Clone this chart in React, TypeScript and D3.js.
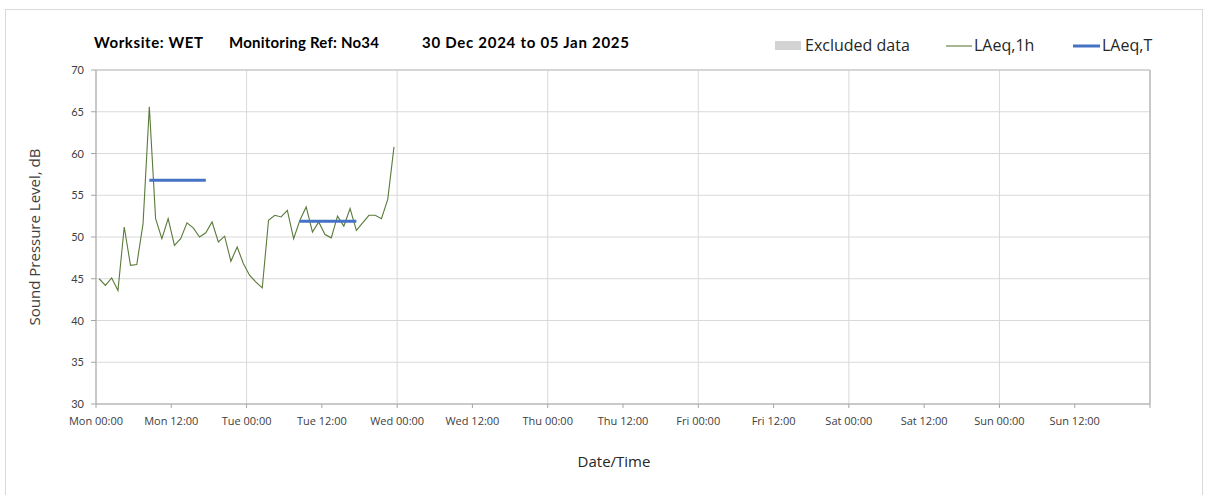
import * as d3 from 'd3';

// hourly LAeq,1h readings, plotted at mid-hour, from Mon 30 Dec 2024 00:00
const startDate = new Date(2024, 11, 30, 0, 0);
const endDate = new Date(2025, 0, 6, 0, 0);
const laeq1h = [
  45.0, 44.2, 45.1, 43.6, 51.2, 46.6, 46.7, 51.6, 65.6, 52.2, 49.8, 52.2,
  49.0, 49.8, 51.7, 51.1, 50.0, 50.5, 51.8, 49.4, 50.1, 47.1, 48.8, 46.8,
  45.4, 44.6, 43.9, 52.0, 52.6, 52.4, 53.2, 49.8, 52.0, 53.6, 50.6, 51.8,
  50.3, 49.9, 52.5, 51.3, 53.4, 50.8, 51.7, 52.6, 52.6, 52.2, 54.5, 60.8,
];
// LAeq,T daytime periods: start/end hour offsets and level
const periodStart = [8.5, 32.5];
const periodEnd = [17.5, 41.5];
const periodLevel = [56.8, 51.9];
const yTicks = [30, 35, 40, 45, 50, 55, 60, 65, 70];
const title = ['Worksite: WET', 'Monitoring Ref: No34', '30 Dec 2024 to 05 Jan 2025'];

const W = 1208;
const H = 495;
const margin = { left: 96, right: 58, top: 70, bottom: 91 };
const FONT = 'Lato, "Open Sans", sans-serif';
const UI_FONT = '"Open Sans", sans-serif';
const hourMs = 3600 * 1000;

export default function App() {
  const x = d3.scaleTime().domain([startDate, endDate]).range([margin.left, W - margin.right]);
  const y = d3.scaleLinear().domain([30, 70]).range([H - margin.bottom, margin.top]);
  const at = (h: number) => new Date(startDate.getTime() + h * hourMs);

  const halfDays = d3.timeHour.every(12)!.range(startDate, d3.timeHour.offset(endDate, 1));
  const days = d3.timeDay.range(startDate, d3.timeHour.offset(endDate, 1));
  const fmt = d3.timeFormat('%a %H:%M');

  const line = d3.line<number>()
    .x((_, i) => x(at(i + 0.5)))
    .y(d => y(d));

  const x0 = margin.left;
  const x1 = W - margin.right;
  const y0 = H - margin.bottom;
  const y1 = margin.top;

  return (
    <div style={{ position: 'absolute', left: 0, top: 0 }}>
      <svg width={W} height={H} style={{ display: 'block', fontFamily: FONT }}>
        <rect x={0} y={0} width={W} height={H} fill="#fff" />
        <rect x={5.5} y={9.5} width={1197} height={490} fill="none" stroke="#d9d9d9" />

        {/* gridlines */}
        {yTicks.map(t => (
          <line key={'gy' + t} x1={x0} x2={x1} y1={y(t)} y2={y(t)} stroke="#d9d9d9" strokeWidth={1} />
        ))}
        {days.map(d => (
          <line key={'gx' + d.getTime()} x1={x(d)} x2={x(d)} y1={y1} y2={y0} stroke="#d9d9d9" strokeWidth={1} />
        ))}

        {/* axes */}
        <line x1={x0} x2={x0} y1={y1} y2={y0} stroke="#a6a6a6" />
        <line x1={x0} x2={x1} y1={y0} y2={y0} stroke="#a6a6a6" />
        <line x1={x1} x2={x1} y1={y1} y2={y0} stroke="#a6a6a6" />
        <line x1={x0} x2={x1} y1={y1} y2={y1} stroke="#bfbfbf" />
        {yTicks.map(t => (
          <g key={'ty' + t}>
            <line x1={x0 - 5} x2={x0} y1={y(t)} y2={y(t)} stroke="#a6a6a6" />
            <text x={x0 - 12} y={y(t) + 4} textAnchor="end" fontSize={11} fill="#404040">{t}</text>
          </g>
        ))}
        {halfDays.map((d, i) => (
          <g key={'tx' + d.getTime()}>
            <line x1={x(d)} x2={x(d)} y1={y0} y2={y0 + 4} stroke="#a6a6a6" />
            {i < halfDays.length - 1 && (
              <text x={x(d)} y={y0 + 21} textAnchor="middle" fontSize={11} fill="#404040"
                fontFamily={UI_FONT}>{fmt(d)}</text>
            )}
          </g>
        ))}

        {/* series */}
        <path d={line(laeq1h) ?? ''} fill="none" stroke="#5a7a3a" strokeWidth={1.1} />
        {periodLevel.map((v, i) => (
          <line key={'p' + i} x1={x(at(periodStart[i]))} x2={x(at(periodEnd[i]))} y1={y(v)} y2={y(v)}
            stroke="#4472c4" strokeWidth={3} />
        ))}

        {/* titles */}
        <text x={94} y={48} fontSize={15} fontWeight="bold" fill="#000" textLength={109}>{title[0]}</text>
        <text x={229} y={48} fontSize={15} fontWeight="bold" fill="#000" textLength={150}>{title[1]}</text>
        <text x={422} y={48} fontSize={15} fontWeight="bold" fill="#000" textLength={207}>{title[2]}</text>
        <text transform={`translate(40,${(y0 + y1) / 2}) rotate(-90)`} textAnchor="middle" fontSize={15}
          fill="#404040" fontFamily={UI_FONT}>
          Sound Pressure Level, dB
        </text>
        <text x={614} y={467} textAnchor="middle" fontSize={15} fill="#262626" fontFamily={UI_FONT}>Date/Time</text>

        {/* legend */}
        <g fontFamily={UI_FONT} fontSize={16} fill="#262626">
          <rect x={775} y={41} width={26} height={9} fill="#d3d3d3" />
          <text x={805} y={51}>Excluded data</text>
          <line x1={946} x2={972} y1={46} y2={46} stroke="#5a7a3a" strokeWidth={1.1} />
          <text x={974} y={51}>LAeq,1h</text>
          <line x1={1073} x2={1100} y1={46} y2={46} stroke="#4472c4" strokeWidth={3} />
          <text x={1102} y={51}>LAeq,T</text>
        </g>
      </svg>
    </div>
  );
}
